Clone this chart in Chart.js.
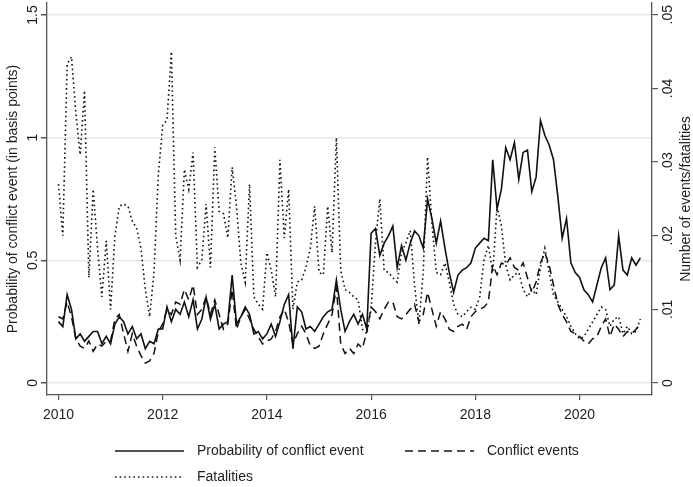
<!DOCTYPE html>
<html>
<head>
<meta charset="utf-8">
<script src="https://cdn.jsdelivr.net/npm/chart.js@4.4.1/dist/chart.umd.min.js"></script>
<style>
  html, body { margin: 0; padding: 0; background: #fff; }
  #wrap { width: 693px; height: 487px; }
</style>
</head>
<body>
<div id="wrap"><canvas id="chart" width="693" height="487"></canvas></div>
<script>
// monthly series, Jan 2010 - Mar 2021
const startYear = 2010;

// probability of conflict event (basis points, left axis)
const probability = [
  0.25, 0.23, 0.36, 0.30, 0.18, 0.20, 0.17, 0.19, 0.21, 0.21, 0.16, 0.19,
  0.16, 0.24, 0.27, 0.25, 0.20, 0.23, 0.18, 0.20, 0.14, 0.17, 0.16, 0.22,
  0.22, 0.31, 0.25, 0.30, 0.28, 0.33, 0.27, 0.34, 0.22, 0.26, 0.35, 0.26,
  0.32, 0.22, 0.24, 0.25, 0.44, 0.24, 0.27, 0.31, 0.28, 0.20, 0.21, 0.18,
  0.20, 0.24, 0.19, 0.25, 0.32, 0.36, 0.14, 0.31, 0.29, 0.22, 0.23, 0.21,
  0.24, 0.27, 0.29, 0.30, 0.42, 0.30, 0.21, 0.25, 0.28, 0.24, 0.28, 0.22,
  0.61, 0.63, 0.52, 0.57, 0.60, 0.64, 0.47, 0.56, 0.50, 0.57, 0.62, 0.60,
  0.55, 0.75, 0.67, 0.57, 0.66, 0.55, 0.45, 0.37, 0.44, 0.46, 0.47, 0.49,
  0.55, 0.57, 0.59, 0.58, 0.91, 0.71, 0.79, 0.96, 0.91, 0.98, 0.83, 0.94,
  0.95, 0.78, 0.84, 1.07, 1.01, 0.97, 0.91, 0.76, 0.59, 0.67, 0.49, 0.45,
  0.43, 0.38, 0.36, 0.33, 0.40, 0.47, 0.51, 0.38, 0.40, 0.60, 0.46, 0.44,
  0.51, 0.48, 0.51
];

// number of conflict events (right axis)
const conflictEvents = [
  0.0090, 0.0087, 0.0110, 0.0090, 0.0060, 0.0050, 0.0047, 0.0057, 0.0043, 0.0053, 0.0050, 0.0057,
  0.0057, 0.0087, 0.0093, 0.0067, 0.0043, 0.0067, 0.0050, 0.0037, 0.0027, 0.0030, 0.0040, 0.0070,
  0.0080, 0.0100, 0.0093, 0.0110, 0.0107, 0.0127, 0.0113, 0.0133, 0.0093, 0.0100, 0.0117, 0.0093,
  0.0113, 0.0093, 0.0073, 0.0080, 0.0127, 0.0073, 0.0090, 0.0100, 0.0087, 0.0073, 0.0063, 0.0053,
  0.0057, 0.0060, 0.0070, 0.0090, 0.0100, 0.0083, 0.0053, 0.0067, 0.0077, 0.0067, 0.0050, 0.0047,
  0.0050, 0.0067, 0.0080, 0.0093, 0.0130, 0.0053, 0.0040, 0.0047, 0.0040, 0.0053, 0.0047, 0.0070,
  0.0103, 0.0097, 0.0087, 0.0100, 0.0110, 0.0110, 0.0090, 0.0087, 0.0093, 0.0100, 0.0107, 0.0083,
  0.0093, 0.0123, 0.0100, 0.0077, 0.0097, 0.0087, 0.0073, 0.0070, 0.0077, 0.0080, 0.0073, 0.0090,
  0.0097, 0.0100, 0.0103, 0.0110, 0.0160, 0.0147, 0.0163, 0.0160, 0.0170, 0.0157, 0.0153, 0.0163,
  0.0143, 0.0123, 0.0137, 0.0163, 0.0177, 0.0160, 0.0133, 0.0107, 0.0093, 0.0083, 0.0070, 0.0067,
  0.0063, 0.0057, 0.0053, 0.0060, 0.0063, 0.0077, 0.0087, 0.0063, 0.0080, 0.0073, 0.0063, 0.0070,
  0.0067, 0.0073, 0.0080
];

// fatalities (right axis)
const fatalities = [
  0.0270, 0.0200, 0.0433, 0.0443, 0.0367, 0.0310, 0.0397, 0.0143, 0.0263, 0.0183, 0.0117, 0.0193,
  0.0100, 0.0200, 0.0240, 0.0243, 0.0240, 0.0220, 0.0210, 0.0183, 0.0127, 0.0090, 0.0150, 0.0283,
  0.0350, 0.0357, 0.0450, 0.0200, 0.0167, 0.0290, 0.0263, 0.0313, 0.0157, 0.0167, 0.0243, 0.0157,
  0.0320, 0.0233, 0.0230, 0.0197, 0.0293, 0.0240, 0.0163, 0.0137, 0.0270, 0.0117, 0.0107, 0.0100,
  0.0177, 0.0153, 0.0117, 0.0303, 0.0197, 0.0263, 0.0100, 0.0137, 0.0140, 0.0157, 0.0183, 0.0240,
  0.0150, 0.0147, 0.0240, 0.0177, 0.0333, 0.0153, 0.0127, 0.0123, 0.0117, 0.0113, 0.0073, 0.0067,
  0.0100, 0.0190, 0.0250, 0.0153, 0.0150, 0.0143, 0.0137, 0.0177, 0.0190, 0.0207, 0.0133, 0.0080,
  0.0150, 0.0307, 0.0217, 0.0150, 0.0147, 0.0163, 0.0137, 0.0107, 0.0093, 0.0090, 0.0097, 0.0103,
  0.0100, 0.0117, 0.0167, 0.0187, 0.0150, 0.0240, 0.0213, 0.0160, 0.0140, 0.0147, 0.0150, 0.0127,
  0.0117, 0.0127, 0.0120, 0.0157, 0.0183, 0.0150, 0.0120, 0.0110, 0.0100, 0.0090, 0.0077, 0.0067,
  0.0060, 0.0063, 0.0073, 0.0083, 0.0093, 0.0103, 0.0100, 0.0077, 0.0087, 0.0090, 0.0067, 0.0077,
  0.0067, 0.0070, 0.0087
];

const xTicks = [2010, 2012, 2014, 2016, 2018, 2020];
const leftTicks = [0, 0.5, 1, 1.5];
const leftTickLabels = ["0", "0.5", "1", "1.5"];
const rightTicks = [0, 0.01, 0.02, 0.03, 0.04, 0.05];
const rightTickLabels = ["0", ".01", ".02", ".03", ".04", ".05"];

// time axis: month i -> year + i/12
const months = probability.map((_, i) => startYear + i / 12);
const toPoints = (arr) => arr.map((v, i) => ({ x: months[i], y: v }));

const FONT = "'Liberation Sans', Arial, sans-serif";
const AXIS = "#555555";
const TEXT = "#1e1e1e";

const seriesStyle = [
  { label: "Probability of conflict event", dash: [], width: 1.6 },
  { label: "Conflict events", dash: [8, 5], width: 1.5 },
  { label: "Fatalities", dash: [1.6, 3], width: 1.6 },
];

// tick labels, axis titles and the legend
const extras = {
  id: "extras",
  afterDraw(chart) {
    const ctx = chart.ctx;
    const { x, y, y1 } = chart.scales;
    ctx.save();
    ctx.fillStyle = TEXT;
    ctx.font = "14px " + FONT;
    ctx.textBaseline = "middle";
    const text = (txt, px, py, align, vertical) => {
      ctx.save();
      ctx.translate(px, py);
      if (vertical) ctx.rotate(-Math.PI / 2);
      ctx.textAlign = align;
      ctx.fillText(txt, 0, 0);
      ctx.restore();
    };
    xTicks.forEach((v) => text(String(v), x.getPixelForValue(v), 415, "center", false));
    leftTicks.forEach((v, i) => text(leftTickLabels[i], 33, y.getPixelForValue(v), "center", true));
    rightTicks.forEach((v, i) => text(rightTickLabels[i], 668, y1.getPixelForValue(v), "center", true));
    const midY = (chart.chartArea.top + chart.chartArea.bottom) / 2;
    text("Probability of conflict event (in basis points)", 13, midY, "center", true);
    text("Number of events/fatalities", 686, midY, "center", true);

    // legend
    const items = [
      { s: seriesStyle[0], x: 115, y: 451 },
      { s: seriesStyle[1], x: 405, y: 451 },
      { s: seriesStyle[2], x: 115, y: 477 },
    ];
    items.forEach((it) => {
      ctx.beginPath();
      ctx.setLineDash(it.s.dash);
      ctx.lineWidth = it.s.width;
      ctx.strokeStyle = "#1a1a1a";
      ctx.moveTo(it.x, it.y);
      ctx.lineTo(it.x + 69, it.y);
      ctx.stroke();
      ctx.setLineDash([]);
      text(it.s.label, it.x + 82, it.y, "left", false);
    });
    ctx.restore();
  },
};

new Chart(document.getElementById("chart"), {
  type: "line",
  data: {
    datasets: [
      {
        label: seriesStyle[0].label,
        data: toPoints(probability),
        yAxisID: "y",
        borderColor: "#111",
        borderWidth: seriesStyle[0].width,
        borderDash: seriesStyle[0].dash,
      },
      {
        label: seriesStyle[1].label,
        data: toPoints(conflictEvents),
        yAxisID: "y1",
        borderColor: "#111",
        borderWidth: seriesStyle[1].width,
        borderDash: seriesStyle[1].dash,
      },
      {
        label: seriesStyle[2].label,
        data: toPoints(fatalities),
        yAxisID: "y1",
        borderColor: "#111",
        borderWidth: seriesStyle[2].width,
        borderDash: seriesStyle[2].dash,
      },
    ],
  },
  options: {
    responsive: false,
    animation: false,
    elements: { point: { radius: 0 }, line: { tension: 0 } },
    layout: { padding: { top: 3, left: 0, right: 0, bottom: 0 } },
    plugins: { legend: { display: false }, tooltip: { enabled: false } },
    scales: {
      x: {
        type: "linear",
        min: 2009.78,
        max: 2021.39,
        afterBuildTicks: (s) => { s.ticks = xTicks.map((v) => ({ value: v })); },
        ticks: { display: false },
        grid: { drawOnChartArea: false, tickLength: 5, tickColor: AXIS, lineWidth: 1.2 },
        border: { color: AXIS, width: 1.3 },
        afterFit: (s) => { s.height = 92; },
      },
      y: {
        position: "left",
        min: -0.049,
        max: 1.549,
        afterBuildTicks: (s) => { s.ticks = leftTicks.map((v) => ({ value: v })); },
        ticks: { display: false },
        grid: { color: "#e8e8e8", lineWidth: 1.5, tickLength: 6, tickColor: AXIS },
        border: { color: AXIS, width: 1.3 },
        afterFit: (s) => { s.width = 47; },
      },
      y1: {
        position: "right",
        min: -0.00163,
        max: 0.0516,
        afterBuildTicks: (s) => { s.ticks = rightTicks.map((v) => ({ value: v })); },
        ticks: { display: false },
        grid: { drawOnChartArea: false, tickLength: 6, tickColor: AXIS, lineWidth: 1.2 },
        border: { color: AXIS, width: 1.3 },
        afterFit: (s) => { s.width = 41; },
      },
    },
  },
  plugins: [extras],
});
</script>
</body>
</html>
